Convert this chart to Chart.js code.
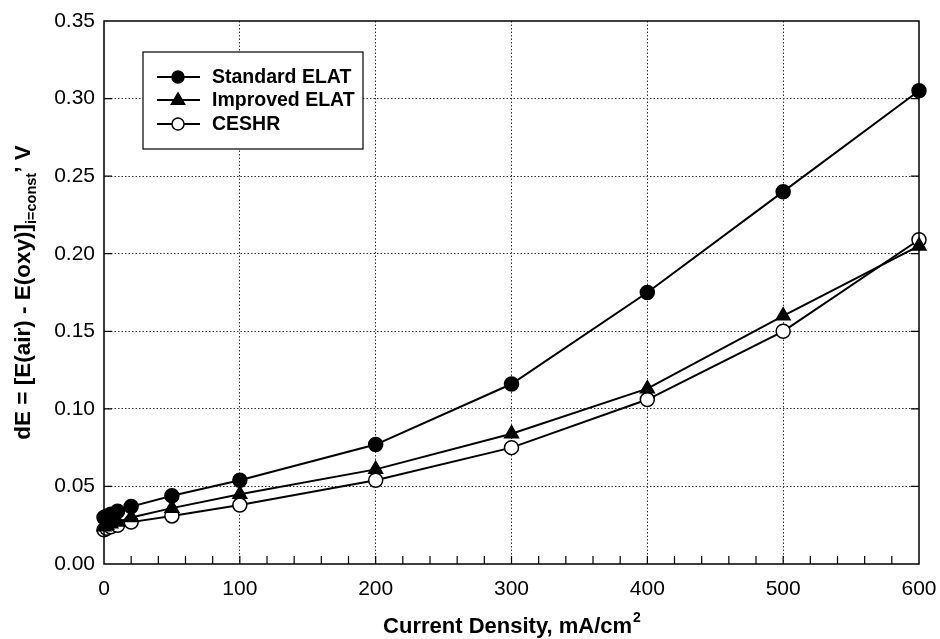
<!DOCTYPE html>
<html>
<head>
<meta charset="utf-8">
<script src="https://cdn.jsdelivr.net/npm/chart.js@4.4.0/dist/chart.umd.min.js"></script>
<style>
  html, body { margin: 0; padding: 0; background: #fff; }
  #wrap { width: 940px; height: 639px; }
</style>
</head>
<body>
<div id="wrap"><canvas id="grafico" width="940" height="639"></canvas></div>
<script>
const densidad = [0, 2, 5, 10, 20, 50, 100, 200, 300, 400, 500, 600];
const standardElat = [0.030, 0.031, 0.032, 0.034, 0.037, 0.044, 0.054, 0.077, 0.116, 0.175, 0.240, 0.305];
const improvedElat = [0.024, 0.025, 0.026, 0.027, 0.030, 0.036, 0.045, 0.061, 0.084, 0.113, 0.160, 0.205];
const ceshr = [0.022, 0.023, 0.024, 0.025, 0.027, 0.031, 0.038, 0.054, 0.075, 0.106, 0.150, 0.209];
const etiquetasY = ['0.00', '0.05', '0.10', '0.15', '0.20', '0.25', '0.30', '0.35'];
const nombres = ['Standard ELAT', 'Improved ELAT', 'CESHR'];

const fuente = '"Liberation Sans", Arial, Helvetica, sans-serif';

function puntos(ys) {
    return densidad.map((x, i) => ({ x: x, y: ys[i] }));
}

function marcador(ctx, estilo, x, y, r) {
    ctx.save();
    ctx.lineWidth = 1.5;
    ctx.strokeStyle = '#000';
    ctx.beginPath();
    if (estilo === 'triangle') {
        ctx.moveTo(x, y - r);
        ctx.lineTo(x + r * 0.95, y + r * 0.6);
        ctx.lineTo(x - r * 0.95, y + r * 0.6);
        ctx.closePath();
        ctx.fillStyle = '#000';
    } else {
        ctx.arc(x, y, r, 0, Math.PI * 2);
        ctx.fillStyle = estilo === 'open' ? '#fff' : '#000';
    }
    ctx.fill();
    ctx.stroke();
    ctx.restore();
}

// marco, ticks hacia dentro, titulos y leyenda
const extras = {
    id: 'extras',
    afterDatasetsDraw(chart) {
        const ctx = chart.ctx;
        const a = chart.chartArea;
        const sx = chart.scales.x;
        const sy = chart.scales.y;

        ctx.save();
        ctx.strokeStyle = '#000';
        ctx.lineWidth = 1.5;
        ctx.strokeRect(a.left, a.top, a.right - a.left, a.bottom - a.top);

        ctx.lineWidth = 1.2;
        for (let v = 20; v < 600; v += 20) {
            const px = sx.getPixelForValue(v);
            ctx.beginPath();
            ctx.moveTo(px, a.bottom);
            ctx.lineTo(px, a.bottom - 8);
            ctx.stroke();
        }
        for (let i = 1; i < etiquetasY.length - 1; i++) {
            const py = sy.getPixelForValue(i * 0.05);
            ctx.beginPath();
            ctx.moveTo(a.left, py);
            ctx.lineTo(a.left + 8, py);
            ctx.moveTo(a.right, py);
            ctx.lineTo(a.right - 8, py);
            ctx.stroke();
        }

        // leyenda
        const lx = 143, ly = 52, lw = 220, lh = 97;
        ctx.fillStyle = '#fff';
        ctx.fillRect(lx, ly, lw, lh);
        ctx.lineWidth = 1.2;
        ctx.strokeRect(lx, ly, lw, lh);
        const filas = [77, 100, 124];
        const estilos = ['filled', 'triangle', 'open'];
        ctx.font = 'bold 19.5px ' + fuente;
        ctx.textBaseline = 'middle';
        nombres.forEach((n, i) => {
            ctx.lineWidth = 2;
            ctx.beginPath();
            ctx.moveTo(157, filas[i]);
            ctx.lineTo(200, filas[i]);
            ctx.stroke();
            marcador(ctx, estilos[i], 178, filas[i], i === 1 ? 7 : 6);
            ctx.fillStyle = '#000';
            ctx.textAlign = 'left';
            ctx.fillText(n, 212, filas[i] + 1);
        });

        // titulo eje x con superindice
        ctx.fillStyle = '#000';
        ctx.textBaseline = 'alphabetic';
        const tx = 'Current Density, mA/cm';
        ctx.font = 'bold 22px ' + fuente;
        const w1 = ctx.measureText(tx).width;
        ctx.font = 'bold 14px ' + fuente;
        const w2 = ctx.measureText('2').width;
        const cx = (a.left + a.right) / 2 - (w1 + w2) / 2;
        ctx.font = 'bold 22px ' + fuente;
        ctx.textAlign = 'left';
        ctx.fillText(tx, cx, 633);
        ctx.font = 'bold 14px ' + fuente;
        ctx.fillText('2', cx + w1 + 1, 622);

        // titulo eje y con subindice
        ctx.save();
        ctx.translate(30, (a.top + a.bottom) / 2);
        ctx.rotate(-Math.PI / 2);
        const p1 = 'dE = [E(air) - E(oxy)]';
        const p2 = 'i=const';
        const p3 = '\u2019 V';
        ctx.font = 'bold 22.5px ' + fuente;
        const a1 = ctx.measureText(p1).width;
        const a3 = ctx.measureText(p3).width;
        ctx.font = 'bold 14.5px ' + fuente;
        const a2 = ctx.measureText(p2).width;
        let x0 = -(a1 + a2 + a3) / 2;
        ctx.font = 'bold 22.5px ' + fuente;
        ctx.fillText(p1, x0, 0);
        ctx.font = 'bold 14.5px ' + fuente;
        ctx.fillText(p2, x0 + a1, 6);
        ctx.font = 'bold 22.5px ' + fuente;
        ctx.fillText(p3, x0 + a1 + a2, 0);
        ctx.restore();

        ctx.restore();
    }
};

const comun = {
    borderColor: '#000',
    borderWidth: 2,
    pointBorderColor: '#000',
    pointBorderWidth: 1.5,
    pointRadius: 7,
    clip: false,
    showLine: true
};

new Chart(document.getElementById('grafico').getContext('2d'), {
    type: 'scatter',
    data: {
        datasets: [
            Object.assign({}, comun, {
                label: nombres[0],
                data: puntos(standardElat),
                pointStyle: 'circle',
                pointBackgroundColor: '#000'
            }),
            Object.assign({}, comun, {
                label: nombres[1],
                data: puntos(improvedElat),
                pointStyle: 'triangle',
                pointRadius: 8,
                pointBackgroundColor: '#000'
            }),
            Object.assign({}, comun, {
                label: nombres[2],
                data: puntos(ceshr),
                pointStyle: 'circle',
                pointBackgroundColor: '#fff'
            })
        ]
    },
    options: {
        responsive: false,
        animation: false,
        layout: { padding: { top: 21, right: 21, left: 0, bottom: 0 } },
        plugins: {
            legend: { display: false },
            tooltip: { enabled: false }
        },
        scales: {
            x: {
                type: 'linear',
                min: 0,
                max: 600,
                afterFit(scale) {
                    scale.height = 75;
                    scale.paddingLeft = 0;
                    scale.paddingRight = 0;
                },
                border: { display: false, dash: [1.5, 2] },
                grid: {
                    drawTicks: false,
                    color: (c) => (c.tick && c.tick.value % 100 === 0 && c.tick.value > 0 && c.tick.value < 600) ? '#333' : 'transparent',
                    lineWidth: 1
                },
                ticks: {
                    stepSize: 20,
                    autoSkip: false,
                    maxRotation: 0,
                    padding: 13,
                    color: '#000',
                    font: { family: fuente, size: 21 },
                    callback: (v) => v % 100 === 0 ? String(v) : ''
                }
            },
            y: {
                min: 0,
                max: 0.35,
                afterFit(scale) {
                    scale.width = 104;
                    scale.paddingTop = 0;
                    scale.paddingBottom = 0;
                },
                border: { display: false, dash: [1.5, 2] },
                grid: {
                    drawTicks: false,
                    color: (c) => (c.index > 0 && c.index < etiquetasY.length - 1) ? '#333' : 'transparent',
                    lineWidth: 1
                },
                ticks: {
                    stepSize: 0.05,
                    padding: 9,
                    color: '#000',
                    font: { family: fuente, size: 21 },
                    callback: (v, i) => etiquetasY[i]
                }
            }
        }
    },
    plugins: [extras]
});
</script>
</body>
</html>
